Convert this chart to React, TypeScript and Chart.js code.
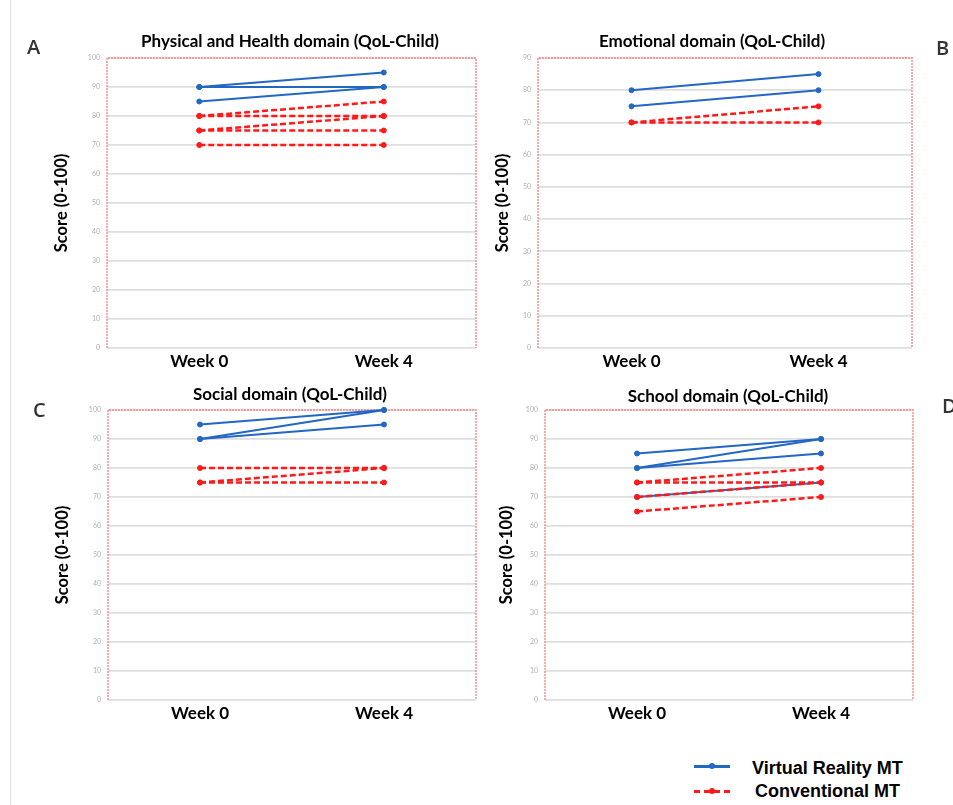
import React, { useEffect, useRef } from "react";
import { Chart, registerables } from "chart.js";

Chart.register(...registerables);

// ---------- data ----------
const weeks = ["Week 0", "Week 4"];
const yAxisTitle = "Score (0-100)";
const vrLabel = "Virtual Reality MT";
const cmtLabel = "Conventional MT";

// A: Physical and Health domain
const physicalTitle = "Physical and Health domain (QoL-Child)";
const physicalMax = 100;
const physicalVRWeek0 = [90, 90, 85];
const physicalVRWeek4 = [95, 90, 90];
const physicalCMTWeek0 = [80, 80, 75, 75, 70];
const physicalCMTWeek4 = [85, 80, 80, 75, 70];

// B: Emotional domain
const emotionalTitle = "Emotional domain (QoL-Child)";
const emotionalMax = 90;
const emotionalVRWeek0 = [80, 75];
const emotionalVRWeek4 = [85, 80];
const emotionalCMTWeek0 = [70, 70];
const emotionalCMTWeek4 = [75, 70];

// C: Social domain
const socialTitle = "Social domain (QoL-Child)";
const socialMax = 100;
const socialVRWeek0 = [95, 90, 90];
const socialVRWeek4 = [100, 100, 95];
const socialCMTWeek0 = [80, 75, 75];
const socialCMTWeek4 = [80, 80, 75];

// D: School domain
const schoolTitle = "School domain (QoL-Child)";
const schoolMax = 100;
const schoolVRWeek0 = [85, 80, 80, 70];
const schoolVRWeek4 = [90, 90, 85, 75];
const schoolCMTWeek0 = [75, 75, 70, 65];
const schoolCMTWeek4 = [80, 75, 75, 70];

// ---------- style ----------
const BLUE = "#2367c4";
const RED = "#ff1a1a";
const FONT = "Lato, 'Open Sans', sans-serif";

const framePlugin = {
  id: "frame",
  beforeDatasetsDraw(chart: any) {
    const { ctx, chartArea } = chart;
    const { left, right, top, bottom } = chartArea;
    ctx.save();
    ctx.strokeStyle = "rgba(255,100,100,0.55)";
    ctx.lineWidth = 2;
    ctx.setLineDash([2, 1]);
    ctx.beginPath();
    ctx.moveTo(left, bottom);
    ctx.lineTo(left, top);
    ctx.lineTo(right, top);
    ctx.lineTo(right, bottom);
    ctx.stroke();
    ctx.restore();
  },
};

type PanelLayout = {
  left: number;
  top: number;
  width: number;
  height: number;
  wl: number;
  wr: number;
  xh: number;
  titlePadTop: number;
  titlePadBottom: number;
  yTitlePad: number;
};

type PanelData = {
  title: string;
  max: number;
  vr0: number[];
  vr4: number[];
  cmt0: number[];
  cmt4: number[];
};

function Panel({ data, layout }: { data: PanelData; layout: PanelLayout }) {
  const ref = useRef<HTMLCanvasElement | null>(null);
  useEffect(() => {
    if (!ref.current) return;
    const cmtSets = data.cmt0.map((v, i) => ({
      label: cmtLabel,
      data: [v, data.cmt4[i]],
      borderColor: RED,
      backgroundColor: RED,
      borderWidth: 2.5,
      borderDash: [6, 3],
      pointRadius: 2.5,
      pointBorderWidth: 1,
      pointBackgroundColor: RED,
      pointBorderColor: RED,
      clip: false as any,
      tension: 0,
    }));
    const vrSets = data.vr0.map((v, i) => ({
      label: vrLabel,
      data: [v, data.vr4[i]],
      borderColor: BLUE,
      backgroundColor: BLUE,
      borderWidth: 2,
      pointRadius: 2.5,
      pointBorderWidth: 1,
      pointBackgroundColor: BLUE,
      pointBorderColor: BLUE,
      clip: false as any,
      tension: 0,
    }));
    const chart = new Chart(ref.current, {
      type: "line",
      data: { labels: weeks, datasets: [...cmtSets, ...vrSets] as any },
      plugins: [framePlugin],
      options: {
        animation: false,
        responsive: false,
        devicePixelRatio: 1,
        layout: { padding: 0 },
        plugins: {
          legend: { display: false },
          tooltip: { enabled: false },
          title: {
            display: true,
            text: data.title,
            color: "#000",
            font: { family: FONT, size: 17, weight: "bold" },
            padding: { top: layout.titlePadTop, bottom: layout.titlePadBottom },
          },
        },
        scales: {
          x: {
            type: "category",
            offset: true,
            grid: { display: false, drawTicks: false },
            border: { display: false },
            ticks: {
              color: "#000",
              font: { family: FONT, size: 17, weight: "bold" },
              padding: 3,
              maxRotation: 0,
            },
            afterFit: (s: any) => {
              s.height = layout.xh;
            },
          },
          y: {
            type: "linear",
            min: 0,
            max: data.max,
            ticks: {
              stepSize: 10,
              color: "#b0b0b0",
              font: { family: FONT, size: 7 },
              padding: 7,
            },
            grid: { color: "#dedede", lineWidth: 1.8, drawTicks: false },
            border: { display: false },
            title: {
              display: true,
              text: yAxisTitle,
              color: "#000",
              font: { family: FONT, size: 16.5, weight: "bold" },
              padding: { top: layout.yTitlePad, bottom: 0 },
            },
            afterFit: (s: any) => {
              s.width = layout.wl;
            },
          },
          yr: {
            type: "linear",
            position: "right",
            display: true,
            grid: { display: false },
            ticks: { display: false },
            border: { display: false },
            afterFit: (s: any) => {
              s.width = layout.wr;
            },
          },
        },
      } as any,
    });
    return () => chart.destroy();
  }, [data, layout]);
  return (
    <canvas
      ref={ref}
      width={layout.width}
      height={layout.height}
      style={{
        position: "absolute",
        left: layout.left,
        top: layout.top,
        width: layout.width,
        height: layout.height,
      }}
    />
  );
}

const panels: { data: PanelData; layout: PanelLayout }[] = [
  {
    data: { title: physicalTitle, max: physicalMax, vr0: physicalVRWeek0, vr4: physicalVRWeek4, cmt0: physicalCMTWeek0, cmt4: physicalCMTWeek4 },
    layout: { left: 20, top: 20, width: 540, height: 355, wl: 87, wr: 84, xh: 27, titlePadTop: 11.8, titlePadBottom: 5.8, yTitlePad: 32 },
  },
  {
    data: { title: emotionalTitle, max: emotionalMax, vr0: emotionalVRWeek0, vr4: emotionalVRWeek4, cmt0: emotionalCMTWeek0, cmt4: emotionalCMTWeek4 },
    layout: { left: 490, top: 20, width: 444, height: 355, wl: 48, wr: 22, xh: 27, titlePadTop: 11.8, titlePadBottom: 5.8, yTitlePad: 3 },
  },
  {
    data: { title: socialTitle, max: socialMax, vr0: socialVRWeek0, vr4: socialVRWeek4, cmt0: socialCMTWeek0, cmt4: socialCMTWeek4 },
    layout: { left: 20, top: 375, width: 540, height: 352, wl: 88, wr: 84, xh: 27, titlePadTop: 9.8, titlePadBottom: 4.8, yTitlePad: 33 },
  },
  {
    data: { title: schoolTitle, max: schoolMax, vr0: schoolVRWeek0, vr4: schoolVRWeek4, cmt0: schoolCMTWeek0, cmt4: schoolCMTWeek4 },
    layout: { left: 490, top: 375, width: 476, height: 352, wl: 55, wr: 53, xh: 27, titlePadTop: 11.8, titlePadBottom: 2.8, yTitlePad: 7 },
  },
];

const letterStyle = (left: number, top: number): React.CSSProperties => ({
  position: "absolute",
  left,
  top,
  fontFamily: "'Open Sans', 'Liberation Sans', sans-serif",
  fontWeight: 600,
  fontSize: 20,
  lineHeight: "20px",
  color: "#333",
});

const legendText: React.CSSProperties = {
  position: "absolute",
  fontFamily: "'Liberation Sans Narrow', 'Arial Narrow', 'Liberation Sans', sans-serif",
  fontWeight: "bold",
  fontSize: 18,
  lineHeight: "20px",
  color: "#000",
  whiteSpace: "nowrap",
};

export default function App() {
  return (
    <div
      style={{
        position: "fixed",
        left: 0,
        top: 0,
        width: 953,
        height: 805,
        overflow: "hidden",
        background: "#fff",
      }}
    >
      <div style={{ position: "absolute", left: 10, top: 0, width: 1, height: 805, background: "#e4e4e4" }} />
      {panels.map((p, i) => (
        <Panel key={i} data={p.data} layout={p.layout} />
      ))}
      <div style={letterStyle(27, 37)}>A</div>
      <div style={letterStyle(936, 38)}>B</div>
      <div style={letterStyle(33, 400)}>C</div>
      <div style={letterStyle(942, 396)}>D</div>

      {/* legend */}
      <div style={{ position: "absolute", left: 694, top: 765, width: 36, height: 3, background: BLUE }} />
      <div style={{ position: "absolute", left: 709, top: 763, width: 6, height: 6, borderRadius: 3, background: BLUE }} />
      <div style={{ ...legendText, left: 752, top: 758 }}>{vrLabel}</div>
      <div style={{ position: "absolute", left: 694, top: 790, width: 36, height: 0, borderTop: `3px dashed ${RED}` }} />
      <div style={{ position: "absolute", left: 709, top: 788, width: 6, height: 6, borderRadius: 3, background: RED }} />
      <div style={{ ...legendText, left: 755, top: 781 }}>{cmtLabel}</div>
    </div>
  );
}
